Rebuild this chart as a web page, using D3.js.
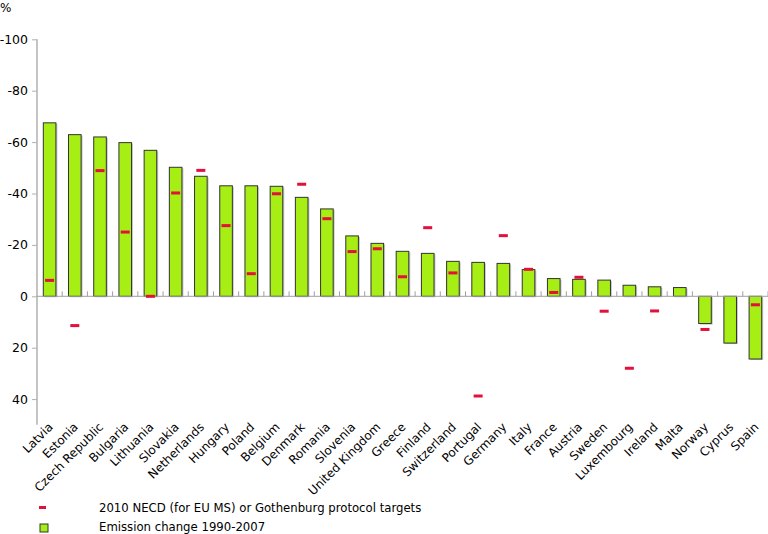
<!DOCTYPE html>
<html>
<head>
<meta charset="utf-8">
<script src="https://cdn.jsdelivr.net/npm/d3@7"></script>
<style>
  body { margin: 0; background: #fff; }
  text { font-family: "DejaVu Sans", Verdana, sans-serif; fill: #000; }
</style>
</head>
<body>
<svg id="mainSVG"></svg>
<script>
// countries, left to right
var countries = ["Latvia", "Estonia", "Czech Republic", "Bulgaria", "Lithuania", "Slovakia",
    "Netherlands", "Hungary", "Poland", "Belgium", "Denmark", "Romania", "Slovenia",
    "United Kingdom", "Greece", "Finland", "Switzerland", "Portugal", "Germany", "Italy",
    "France", "Austria", "Sweden", "Luxembourg", "Ireland", "Malta", "Norway", "Cyprus", "Spain"];
// emission change 1990-2007 (%)
var emissionChange = [-67.5, -62.9, -62.0, -59.8, -56.8, -50.2, -46.7, -43.0, -43.0, -42.8,
    -38.5, -34.0, -23.5, -20.6, -17.5, -16.7, -13.6, -13.2, -12.8, -10.4,
    -6.9, -6.6, -6.3, -4.3, -3.7, -3.4, 10.6, 18.2, 24.4];
// 2010 targets (%), null = no target
var targets = [-6.2, 11.4, -48.9, -25.0, 0.0, -40.2, -49.0, -27.5, -8.8, -39.9,
    -43.6, -30.2, -17.4, -18.5, -7.6, -26.7, -9.1, 38.8, -23.6, -10.5,
    -1.5, -7.4, 5.8, 28.0, 5.7, null, 12.9, null, 3.3];
var yTicks = [-100, -80, -60, -40, -20, 0, 20, 40];
var legendLabels = ["2010 NECD (for EU MS) or Gothenburg protocol targets", "Emission change 1990-2007"];

var width = 768;
var height = 534;
var plot = { left: 37, right: 768, top: 39.3, bottom: 424.8 };

var svg = d3.select("#mainSVG")
    .attr("width", width)
    .attr("height", height);

var x = d3.scaleBand()
    .domain(countries)
    .range([plot.left, plot.right])
    .paddingInner(0.5)
    .paddingOuter(0.25);

// negative values on top
var y = d3.scaleLinear()
    .domain([-100, 50])
    .range([plot.top, plot.bottom]);

// y axis, plain hyphen for minus
var yAxis = svg.append("g")
    .attr("transform", "translate(" + plot.left + ",0)")
    .call(d3.axisLeft(y).tickValues(yTicks).tickSize(5).tickSizeOuter(0)
        .tickFormat(function(d) { return String(d); }));
yAxis.select(".domain")
    .attr("stroke", "#b0b0b0")
    .attr("stroke-width", 1.5)
    .attr("d", "M0," + y(-100) + "V" + plot.bottom);
yAxis.selectAll(".tick line").attr("stroke", "#b0b0b0");
yAxis.selectAll(".tick text")
    .attr("x", -9)
    .style("font-size", "12.5px")
    .style("font-family", "'DejaVu Sans', Verdana, sans-serif");

svg.append("text")
    .attr("x", 0)
    .attr("y", 12)
    .style("font-size", "12px")
    .text("%");

// bar shadows
svg.append("g")
    .selectAll("rect")
    .data(d3.range(countries.length))
    .enter()
    .append("rect")
    .attr("x", function(d) { return x(countries[d]) + 1.5; })
    .attr("y", function(d) { return Math.min(y(emissionChange[d]), y(0)) + 1; })
    .attr("width", x.bandwidth())
    .attr("height", function(d) { return Math.abs(y(emissionChange[d]) - y(0)); })
    .attr("fill", "#c8c8c8");

// bars
svg.append("g")
    .selectAll("rect")
    .data(d3.range(countries.length))
    .enter()
    .append("rect")
    .attr("x", function(d) { return x(countries[d]); })
    .attr("y", function(d) { return Math.min(y(emissionChange[d]), y(0)); })
    .attr("width", x.bandwidth())
    .attr("height", function(d) { return Math.abs(y(emissionChange[d]) - y(0)); })
    .attr("fill", "#a6ee14")
    .attr("stroke", "#333")
    .attr("stroke-width", 1);

// zero line with small ticks between bars
svg.append("line")
    .attr("x1", plot.left)
    .attr("x2", plot.right)
    .attr("y1", y(0))
    .attr("y2", y(0))
    .attr("stroke", "#a0a0a0")
    .attr("stroke-width", 1);

svg.append("g")
    .selectAll("line")
    .data(d3.range(1, countries.length + 1))
    .enter()
    .append("line")
    .attr("x1", function(d) { return plot.left + d * x.step(); })
    .attr("x2", function(d) { return plot.left + d * x.step(); })
    .attr("y1", y(0))
    .attr("y2", y(0) - 5)
    .attr("stroke", "#a0a0a0");

// target markers
svg.append("g")
    .selectAll("rect")
    .data(d3.range(countries.length).filter(function(d) { return targets[d] !== null; }))
    .enter()
    .append("rect")
    .attr("x", function(d) { return x(countries[d]) + x.bandwidth() / 2 - 4.5; })
    .attr("y", function(d) { return y(targets[d]) - 1.5; })
    .attr("width", 9)
    .attr("height", 3)
    .attr("fill", "#e2103a");

// country labels
svg.append("g")
    .selectAll("text")
    .data(countries)
    .enter()
    .append("text")
    .attr("transform", function(d) {
        return "translate(" + (x(d) + x.bandwidth() / 2 + 4) + "," + (plot.bottom + 3) + ") rotate(-45)";
    })
    .style("text-anchor", "end")
    .style("font-size", "12px")
    .text(function(d) { return d; });

// legend
svg.append("rect")
    .attr("x", 39)
    .attr("y", 506)
    .attr("width", 7)
    .attr("height", 3)
    .attr("fill", "#e2103a");
svg.append("rect")
    .attr("x", 40)
    .attr("y", 524)
    .attr("width", 8)
    .attr("height", 8)
    .attr("fill", "#a6ee14")
    .attr("stroke", "#333");
svg.append("text")
    .attr("x", 99)
    .attr("y", 511.5)
    .style("font-size", "11.7px")
    .text(legendLabels[0]);
svg.append("text")
    .attr("x", 99)
    .attr("y", 531)
    .style("font-size", "11.7px")
    .text(legendLabels[1]);
</script>
</body>
</html>
